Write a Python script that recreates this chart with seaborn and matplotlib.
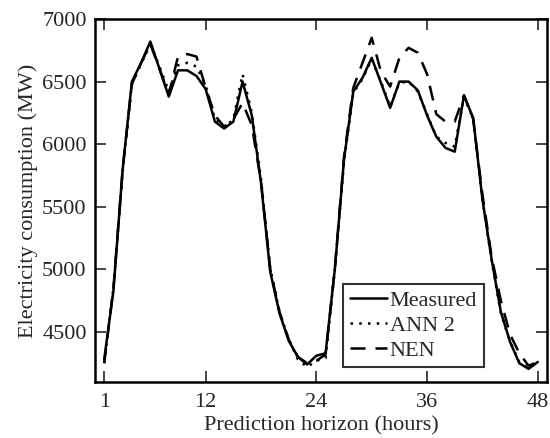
import numpy as np
import pandas as pd
import matplotlib
matplotlib.use("Agg")
import matplotlib.pyplot as plt
import seaborn as sns

hours = list(range(1, 49))
measured = [4280, 4830, 5800, 6500, 6650, 6820, 6600, 6380, 6590, 6590, 6545, 6440,
            6180, 6125, 6180, 6500, 6230, 5690, 4980, 4650, 4430, 4300, 4240, 4310,
            4330, 5000, 5880, 6420, 6530, 6690, 6490, 6290, 6500, 6500, 6430, 6230,
            6060, 5970, 5940, 6390, 6210, 5560, 5080, 4660, 4420, 4250, 4205, 4260]
ann2 = [4250, 4850, 5780, 6480, 6640, 6800, 6620, 6420, 6630, 6650, 6620, 6470,
        6200, 6130, 6200, 6560, 6250, 5720, 5010, 4660, 4440, 4280, 4220, 4270,
        4290, 5000, 5860, 6410, 6520, 6680, 6500, 6300, 6490, 6500, 6420, 6240,
        6060, 6010, 5980, 6380, 6200, 5560, 5070, 4650, 4420, 4260, 4210, 4260]
nen = [4250, 4850, 5800, 6480, 6650, 6800, 6600, 6400, 6700, 6720, 6700, 6450,
       6230, 6140, 6200, 6330, 6150, 5700, 5000, 4660, 4440, 4300, 4250, 4270,
       4320, 5000, 5900, 6450, 6650, 6850, 6580, 6460, 6690, 6770, 6730, 6560,
       6240, 6180, 6180, 6390, 6200, 5600, 5100, 4750, 4480, 4330, 4230, 4260]
xticks = [1, 12, 24, 36, 48]
yticks = [4500, 5000, 5500, 6000, 6500, 7000]

df = pd.DataFrame({"hour": hours * 3,
                   "value": measured + ann2 + nen,
                   "series": ["Measured"] * 48 + ["ANN 2"] * 48 + ["NEN"] * 48})

sns.set_theme(style="white")
plt.rcParams["font.family"] = ["Liberation Serif", "DejaVu Serif"]

fig = plt.figure(figsize=(5.5, 4.38), dpi=100)
ax = fig.add_axes([0.1727, 0.1279, 0.8218, 0.8287])

styles = {"Measured": "-", "ANN 2": (0, (1, 2.5)), "NEN": (0, (6, 4))}
for name in ["Measured", "ANN 2", "NEN"]:
    sub = df[df["series"] == name]
    sns.lineplot(data=sub, x="hour", y="value", ax=ax, color="black",
                 linewidth=1.8, linestyle=styles[name], label=name, legend=False)

fs = 16
ax.set_xlim(0, 49)
ax.set_ylim(4100, 7000)
ax.set_xticks(xticks)
ax.set_yticks(yticks)
ax.set_xlabel("Prediction horizon (hours)", fontsize=fs, labelpad=3)
ax.set_ylabel("Electricity consumption (MW)", fontsize=fs, labelpad=3)
ax.tick_params(direction="in", length=8, width=1.2, labelsize=fs,
               top=True, right=True, bottom=True, left=True, pad=6)
ax.tick_params(axis="x", pad=8)
for s in ax.spines.values():
    s.set_color("black")
    s.set_linewidth(1.8)

leg = ax.legend(loc="lower right", bbox_to_anchor=(0.86, 0.04), fontsize=fs,
                frameon=True, fancybox=False, edgecolor="black",
                handlelength=1.7, handletextpad=0.1, borderpad=0.3,
                labelspacing=0.2, borderaxespad=0)
leg.get_frame().set_linewidth(1.5)

fig.savefig("out.png", dpi=100)
